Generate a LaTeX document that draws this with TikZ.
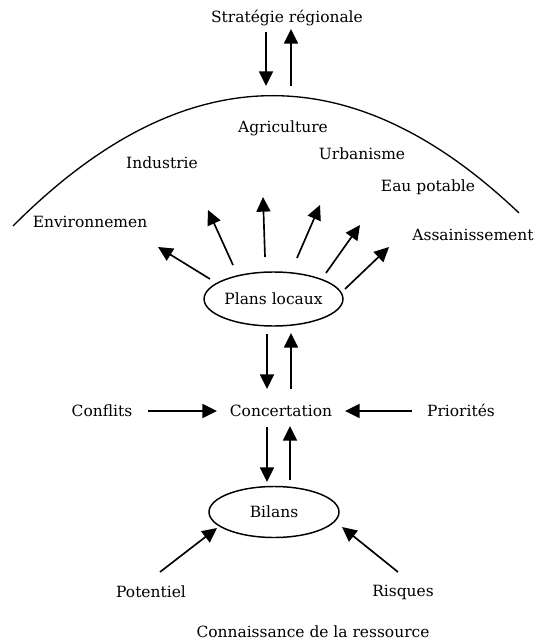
\documentclass[tikz,border=0pt]{standalone}
\usepackage{fontspec}
\setmainfont{DejaVu Serif}
\usetikzlibrary{arrows.meta,shapes.geometric}
\begin{document}
\begin{tikzpicture}[x=0.75pt,y=-0.75pt,
  lbl/.style={inner sep=0pt,font=\fontsize{11.6}{14}\selectfont},
  arr/.style={line width=1.25pt,-{Triangle[length=11pt,width=10.5pt]}},
  ell/.style={draw,ellipse,line width=1.1pt,inner sep=0pt,font=\fontsize{11.6}{14}\selectfont}]
\useasboundingbox (0,0) rectangle (536,641);
% labels
\node[lbl] (strat) at (287,18) {Stratégie régionale};
\node[lbl] (agri) at (283,128) {Agriculture};
\node[lbl] (ind) at (162,163) {Industrie};
\node[lbl] (urb) at (362,154) {Urbanisme};
\node[lbl] (eau) at (428,187) {Eau potable};
\node[lbl] (env) at (90,222) {Environnemen};
\node[lbl] (ass) at (473,235) {Assainissement};
\node[ell,minimum width=96.75pt,minimum height=40.5pt] (pl) at (273.5,299) {Plans locaux};
\node[lbl] (conc) at (281,411) {Concertation};
\node[lbl] (conf) at (102,411) {Conflits};
\node[lbl] (prio) at (461,410) {Priorités};
\node[ell,minimum width=97.5pt,minimum height=38.25pt] (bil) at (274,512) {Bilans};
\node[lbl] (pot) at (151,592) {Potentiel};
\node[lbl] (risq) at (403,592) {Risques};
\node[lbl] (conn) at (313,632) {Connaissance de la ressource};
% arc
\coordinate (arcL) at (13,226);
\coordinate (arcR) at (519,213);
\draw[line width=1pt] (arcL) .. controls (181.7,56.7) and (350.3,52.3) .. (arcR);
% strategy arrows
\coordinate (s1a) at (266,32); \coordinate (s1b) at (266,86);
\coordinate (s2a) at (291,86); \coordinate (s2b) at (291,29);
\draw[arr] (s1a) -- (s1b);
\draw[arr] (s2a) -- (s2b);
% fan arrows
\coordinate (f1a) at (210,279); \coordinate (f1b) at (158,247);
\coordinate (f2a) at (233,265); \coordinate (f2b) at (208,210);
\coordinate (f3a) at (265,257); \coordinate (f3b) at (263,197);
\coordinate (f4a) at (297,258); \coordinate (f4b) at (320,205);
\coordinate (f5a) at (326,273); \coordinate (f5b) at (360,225);
\coordinate (f6a) at (345,289); \coordinate (f6b) at (389,247);
\foreach \i in {1,...,6} {\draw[arr] (f\i a) -- (f\i b);}
% plans <-> concertation
\coordinate (p1a) at (267,334); \coordinate (p1b) at (267,389);
\coordinate (p2a) at (291,389); \coordinate (p2b) at (291,333);
\draw[arr] (p1a) -- (p1b);
\draw[arr] (p2a) -- (p2b);
% conflits / priorites
\coordinate (c1a) at (148,411); \coordinate (c1b) at (217,411);
\coordinate (c2a) at (412,411); \coordinate (c2b) at (345,411);
\draw[arr] (c1a) -- (c1b);
\draw[arr] (c2a) -- (c2b);
% concertation <-> bilans
\coordinate (b1a) at (267,427); \coordinate (b1b) at (267,482);
\coordinate (b2a) at (290,480); \coordinate (b2b) at (290,426);
\draw[arr] (b1a) -- (b1b);
\draw[arr] (b2a) -- (b2b);
% potentiel / risques
\coordinate (r1a) at (160,572); \coordinate (r1b) at (217,528);
\coordinate (r2a) at (398,572); \coordinate (r2b) at (342,527);
\draw[arr] (r1a) -- (r1b);
\draw[arr] (r2a) -- (r2b);
\end{tikzpicture}
\end{document}
